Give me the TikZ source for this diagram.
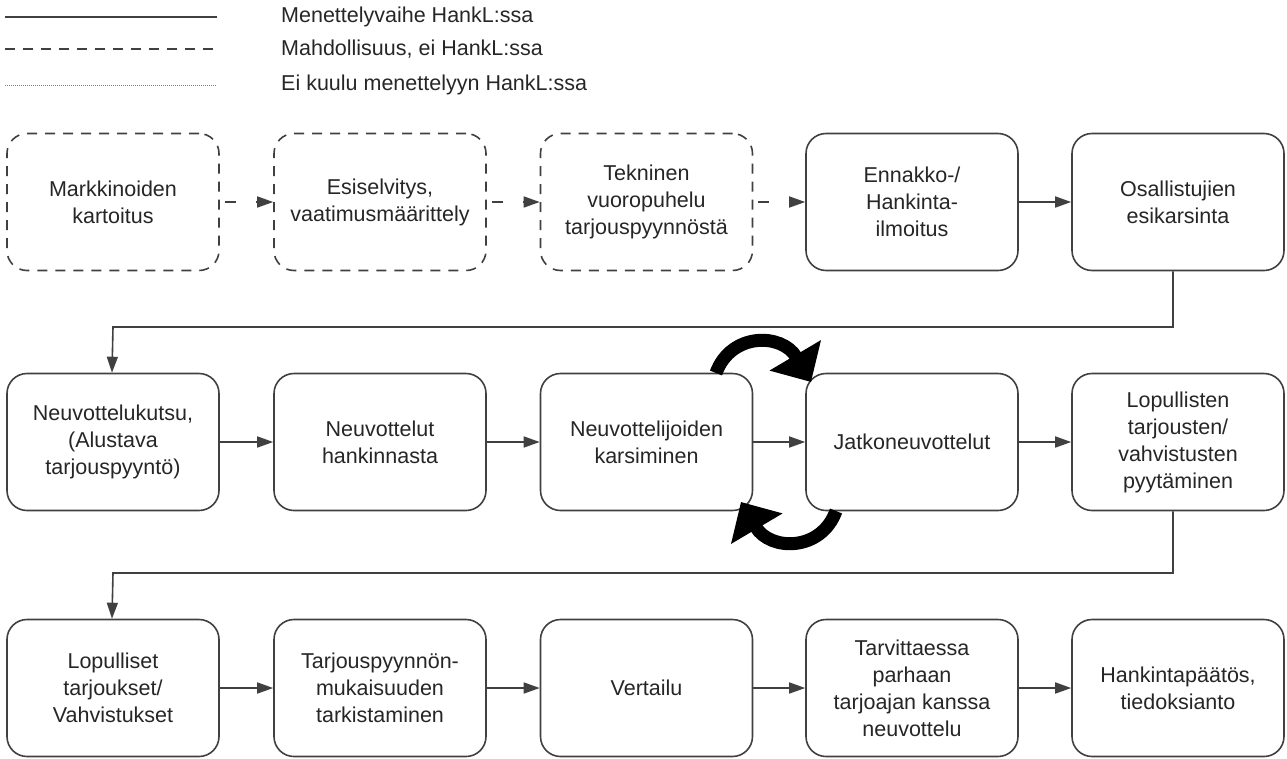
\documentclass[tikz,border=0pt]{standalone}
\usepackage{fontspec}
\setmainfont{Liberation Sans}
\usetikzlibrary{arrows.meta,calc}
\begin{document}
\begin{tikzpicture}[x=1pt,y=-1pt,
  txt/.style={font=\fontsize{21.5}{27}\selectfont, text=black!85},
  box/.style={txt, draw=black!75, line width=1.6pt, rounded corners=20pt,
    minimum width=212pt, minimum height=137pt, inner sep=0pt, align=center, fill=white},
  optbox/.style={box, dash pattern=on 10pt off 8pt},
  conn/.style={draw=black!75, line width=1.6pt, -{Triangle[length=16pt,width=11pt]}},
  optconn/.style={conn, dash pattern=on 11pt off 20pt, dash phase=-5pt},
  bigarrow/.style={draw=black, line width=13pt, -{Triangle[length=31pt,width=58pt]}},
  legtext/.style={txt, anchor=west, inner sep=0pt},
  legline/.style={draw=black!75, line width=1.6pt}]
\useasboundingbox (0,0) rectangle (1287,758);

% legend
\coordinate (l1a) at (5,17);  \coordinate (l1b) at (217,17);
\coordinate (l2a) at (5,49);  \coordinate (l2b) at (217,49);
\coordinate (l3a) at (5,85);  \coordinate (l3b) at (217,85);
\draw[legline] (l1a) -- (l1b);
\draw[legline, dash pattern=on 10pt off 8pt] (l2a) -- (l2b);
\draw[draw=black!50, line width=0.7pt, dash pattern=on 1pt off 1pt] (l3a) -- (l3b);
\node[legtext] (t1) at (281,17) {Menettelyvaihe HankL:ssa};
\node[legtext] (t2) at (281,49) {Mahdollisuus, ei HankL:ssa};
\node[legtext] (t3) at (281,85) {Ei kuulu menettelyyn HankL:ssa};

% row 1
\node[optbox] (a1) at (113,202) {Markkinoiden\\kartoitus};
\node[optbox] (a2) at (380,202) {Esiselvitys,\\vaatimusmäärittely};
\node[optbox] (a3) at (646.5,202) {Tekninen\\vuoropuhelu\\tarjouspyynnöstä};
\node[box] (a4) at (912,202) {Ennakko-/\\Hankinta-\\ilmoitus};
\node[box] (a5) at (1178,202) {Osallistujien\\esikarsinta};

% row 2
\node[box] (b1) at (113,442) {Neuvottelukutsu,\\(Alustava\\tarjouspyyntö)};
\node[box] (b2) at (380,442) {Neuvottelut\\hankinnasta};
\node[box] (b3) at (646.5,442) {Neuvottelijoiden\\karsiminen};
\node[box] (b4) at (912,442) {Jatkoneuvottelut};
\node[box] (b5) at (1178,442) {Lopullisten\\tarjousten/\\vahvistusten\\pyytäminen};

% row 3
\node[box] (c1) at (113,688) {Lopulliset\\tarjoukset/\\Vahvistukset};
\node[box] (c2) at (380,688) {Tarjouspyynnön-\\mukaisuuden\\tarkistaminen};
\node[box] (c3) at (646.5,688) {Vertailu};
\node[box] (c4) at (912,688) {Tarvittaessa\\parhaan\\tarjoajan kanssa\\neuvottelu};
\node[box] (c5) at (1178,688) {Hankintapäätös,\\tiedoksianto};

% connectors row 1
\draw[optconn] (a1) -- (a2);
\draw[optconn] (a2) -- (a3);
\draw[optconn] (a3) -- (a4);
\draw[conn] (a4) -- (a5);

% row 1 -> row 2
\coordinate (r1) at (0,327);
\draw[conn] ([xshift=-5pt]a5.south) |- (r1 -| b1.north) -- ([xshift=-1pt]b1.north);

% connectors row 2
\draw[conn] (b1) -- (b2);
\draw[conn] (b2) -- (b3);
\draw[conn] (b3) -- (b4);
\draw[conn] (b4) -- (b5);

% row 2 -> row 3
\coordinate (r2) at (0,573);
\draw[conn] ([xshift=-5pt]b5.south) |- (r2 -| c1.north) -- ([xshift=-1pt]c1.north);

% connectors row 3
\draw[conn] (c1) -- (c2);
\draw[conn] (c2) -- (c3);
\draw[conn] (c3) -- (c4);
\draw[conn] (c4) -- (c5);

% loop arrows
\coordinate (u0) at (716,373);
\coordinate (u1) at (811,382);
\coordinate (d0) at (836,511);
\coordinate (d1) at (741,502);
\draw[bigarrow] (u0) .. controls (731,332) and (782,333) .. (u1);
\draw[bigarrow] (d0) .. controls (821,552) and (770,551) .. (d1);
\end{tikzpicture}
\end{document}
